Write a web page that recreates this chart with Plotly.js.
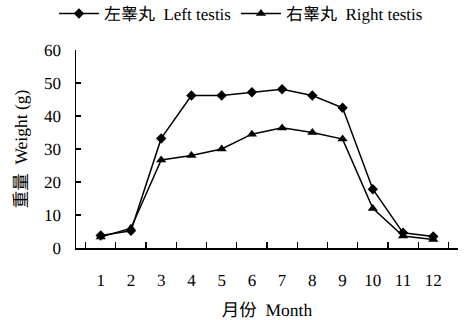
<!DOCTYPE html>
<html>
<head>
<meta charset="utf-8">
<script src="https://cdn.plot.ly/plotly-3.0.1.min.js"></script>
<style>html,body{margin:0;padding:0;background:#fff;}#chart{width:465px;height:320px;}
svg text{-webkit-font-smoothing:antialiased;text-rendering:geometricPrecision;}</style>
</head>
<body>
<div id="chart"></div>
<script>
const months = ["1","2","3","4","5","6","7","8","9","10","11","12"];
const leftTestis = [3.8, 5.2, 33.2, 46.2, 46.2, 47.2, 48.1, 46.2, 42.5, 17.8, 4.6, 3.5];
const rightTestis = [3.3, 6.0, 26.7, 28.0, 30.0, 34.5, 36.4, 35.0, 33.0, 12.0, 3.6, 2.6];
const leftName = "左睾丸  Left testis";
const rightName = "右睾丸  Right testis";
const xTitle = "月份  Month";
const yTitle = "重量  Weight (g)";

const FONT = "'Liberation Serif', 'Times New Roman', 'Noto Sans CJK SC', serif";

const traces = [
  {x: months, y: leftTestis, name: leftName, type: "scatter", mode: "lines+markers",
   line: {color: "#000", width: 1.5}, marker: {symbol: "diamond", size: 8, color: "#000"}},
  {x: months, y: rightTestis, name: rightName, type: "scatter", mode: "lines+markers",
   line: {color: "#000", width: 1.5}, marker: {symbol: "triangle-up", size: 9, color: "#000"}}
];

const layout = {
  width: 465, height: 320,
  margin: {l: 76, r: 7, t: 50, b: 72, autoexpand: false},
  paper_bgcolor: "#fff", plot_bgcolor: "#fff",
  font: {family: FONT, size: 17, color: "#000"},
  showlegend: true,
  legend: {orientation: "h", xref: "container", yref: "container", x: 0.116, xanchor: "left",
           y: 1 - 14/320, yanchor: "middle",
           font: {family: FONT, size: 17, color: "#000"}, itemwidth: 40, tracegroupgap: 0,
           bgcolor: "rgba(0,0,0,0)"},
  xaxis: {type: "category", tickson: "boundaries", ticks: "inside", ticklen: 6, tickwidth: 1.2,
          automargin: false,
          tickcolor: "#000", showline: true, linecolor: "#000", linewidth: 1.5, showgrid: false,
          zeroline: false, ticklabelstandoff: 16, tickfont: {family: FONT, size: 17},
          title: {text: xTitle, font: {family: FONT, size: 17.5}, standoff: 16}},
  yaxis: {range: [0, 60], dtick: 10, ticks: "inside", ticklen: 5, tickwidth: 1.2, tickcolor: "#000",
          automargin: false,
          showline: true, linecolor: "#000", linewidth: 1.5, showgrid: false, zeroline: false,
          ticklabelstandoff: 10, tickfont: {family: FONT, size: 17},
          title: {text: yTitle, font: {family: FONT, size: 17.5}, standoff: 12}}
};

Plotly.newPlot("chart", traces, layout, {staticPlot: true, displayModeBar: false});
</script>
</body>
</html>
